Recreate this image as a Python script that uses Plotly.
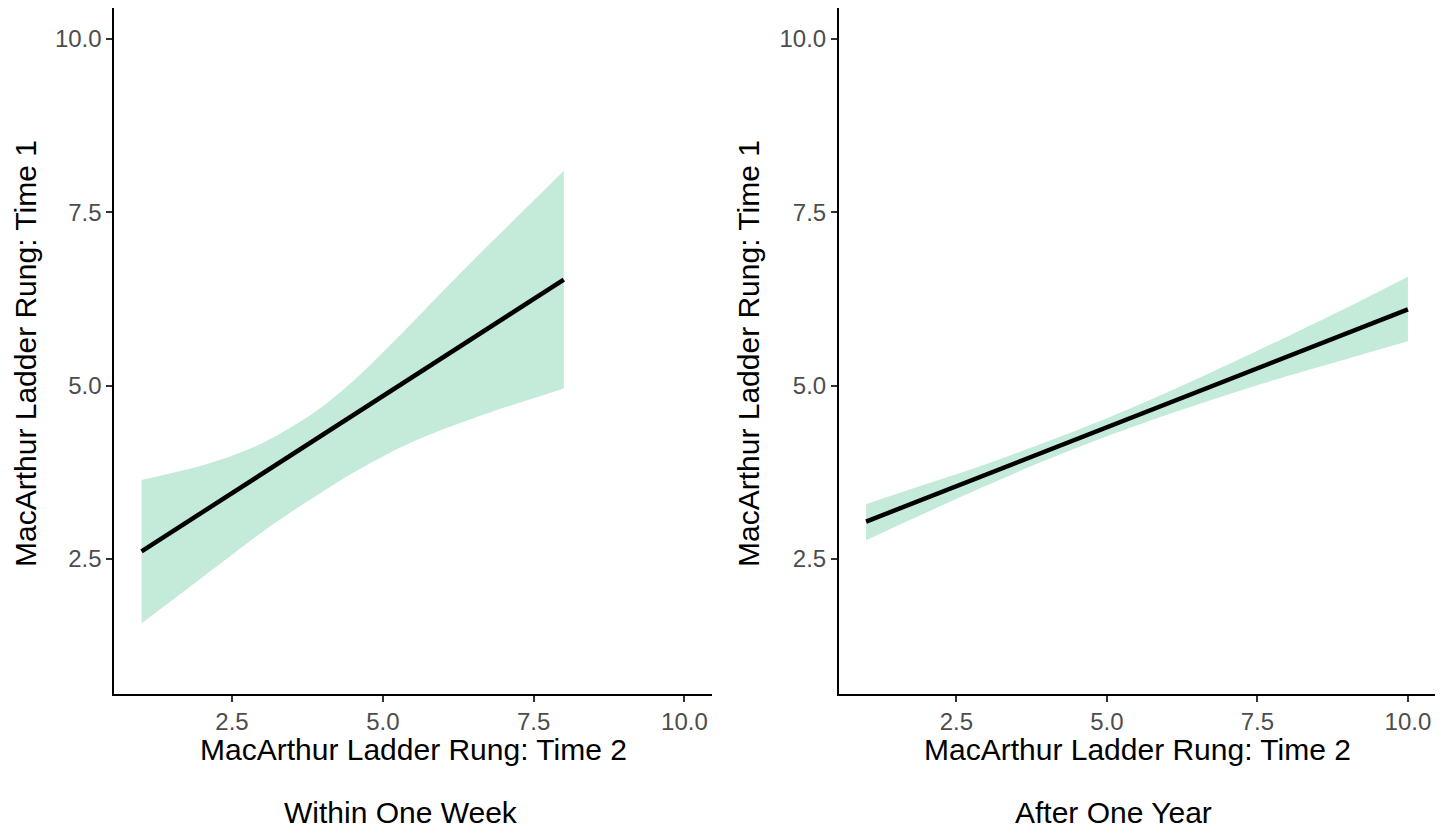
import plotly.graph_objects as go

# ---- data ----
# Left panel: Within One Week
week_x = [1, 1.5, 2, 2.5, 3, 3.5, 4, 4.5, 5, 5.5, 6, 6.5, 7, 7.5, 8]
week_fit = [2.61, 2.89, 3.17, 3.45, 3.73, 4.01, 4.29, 4.57, 4.85, 5.13, 5.41, 5.69, 5.97, 6.25, 6.53]
week_upper = [3.64, 3.74, 3.85, 3.99, 4.17, 4.41, 4.70, 5.06, 5.48, 5.92, 6.37, 6.81, 7.24, 7.67, 8.10]
week_lower = [1.57, 1.90, 2.23, 2.56, 2.89, 3.19, 3.47, 3.74, 3.98, 4.19, 4.37, 4.53, 4.68, 4.82, 4.96]

# Right panel: After One Year
year_x = [1, 2, 3, 4, 5, 6, 7, 8, 9, 10]
year_fit = [3.04, 3.38, 3.72, 4.06, 4.40, 4.74, 5.08, 5.42, 5.76, 6.10]
year_upper = [3.29, 3.58, 3.87, 4.19, 4.53, 4.90, 5.30, 5.71, 6.13, 6.57]
year_lower = [2.77, 3.17, 3.56, 3.93, 4.27, 4.58, 4.87, 5.14, 5.39, 5.64]

tick_vals = [2.5, 5.0, 7.5, 10.0]
tick_text = ["2.5", "5.0", "7.5", "10.0"]
x_title = "MacArthur Ladder Rung: Time 2"
y_title = "MacArthur Ladder Rung: Time 1"
captions = ["Within One Week", "After One Year"]

FILL = "rgba(196,234,218,1)"
FONT = "Liberation Sans, Arial, Helvetica, sans-serif"

fig = go.Figure()

panels = [
    (week_x, week_fit, week_upper, week_lower, "x", "y"),
    (year_x, year_fit, year_upper, year_lower, "x2", "y2"),
]
for xs, fit, up, lo, xa, ya in panels:
    fig.add_trace(go.Scatter(
        x=xs, y=lo, mode="lines",
        line=dict(width=0, color=FILL, shape="spline", smoothing=0.8),
        hoverinfo="skip", showlegend=False, xaxis=xa, yaxis=ya))
    fig.add_trace(go.Scatter(
        x=xs, y=up, mode="lines", fill="tonexty", fillcolor=FILL,
        line=dict(width=0, color=FILL, shape="spline", smoothing=0.8),
        hoverinfo="skip", showlegend=False, xaxis=xa, yaxis=ya))
    fig.add_trace(go.Scatter(
        x=xs, y=fit, mode="lines", line=dict(color="black", width=4.5),
        showlegend=False, xaxis=xa, yaxis=ya))

W, H = 1447, 830
left_dom = [114.4 / W, 711.6 / W]
right_dom = [839.0 / W, 1435.0 / W]
y_dom = [(H - 694.2) / H, (H - 7.8) / H]

axis_common = dict(
    range=[0.55, 10.45], showline=True, linecolor="black", linewidth=2,
    ticks="outside", ticklen=6, tickwidth=2, tickcolor="#333333",
    showgrid=False, zeroline=False, tickvals=tick_vals, ticktext=tick_text,
    tickfont=dict(family=FONT, size=24, color="#4d4d4d"),
)

fig.update_layout(
    width=W, height=H, margin=dict(l=0, r=0, t=0, b=0),
    paper_bgcolor="white", plot_bgcolor="white",
    font=dict(family=FONT),
    xaxis=dict(domain=left_dom, anchor="y", ticklabelstandoff=-1, **axis_common),
    yaxis=dict(domain=y_dom, anchor="x", ticklabelstandoff=0, **axis_common),
    xaxis2=dict(domain=right_dom, anchor="y2", ticklabelstandoff=-1, **axis_common),
    yaxis2=dict(domain=y_dom, anchor="x2", ticklabelstandoff=0, **axis_common),
)

ann = []
for dom, cap_x, cap in [(left_dom, 401, captions[0]), (right_dom, 1113, captions[1])]:
    cx = (dom[0] + dom[1]) / 2
    ann.append(dict(text=x_title, x=cx, y=1 - 749 / H, xref="paper", yref="paper",
                    showarrow=False, xanchor="center", yanchor="middle",
                    font=dict(family=FONT, size=30, color="black")))
    ann.append(dict(text=cap, x=cap_x / W, y=1 - 812 / H, xref="paper", yref="paper",
                    showarrow=False, xanchor="center", yanchor="middle",
                    font=dict(family=FONT, size=30, color="black")))
for xpos in [25, 748]:
    ann.append(dict(text=y_title, x=xpos / W, y=1 - 354 / H, xref="paper", yref="paper",
                    showarrow=False, xanchor="center", yanchor="middle", textangle=-90,
                    font=dict(family=FONT, size=30, color="black")))
fig.update_layout(annotations=ann)

fig.write_html("out.html")
